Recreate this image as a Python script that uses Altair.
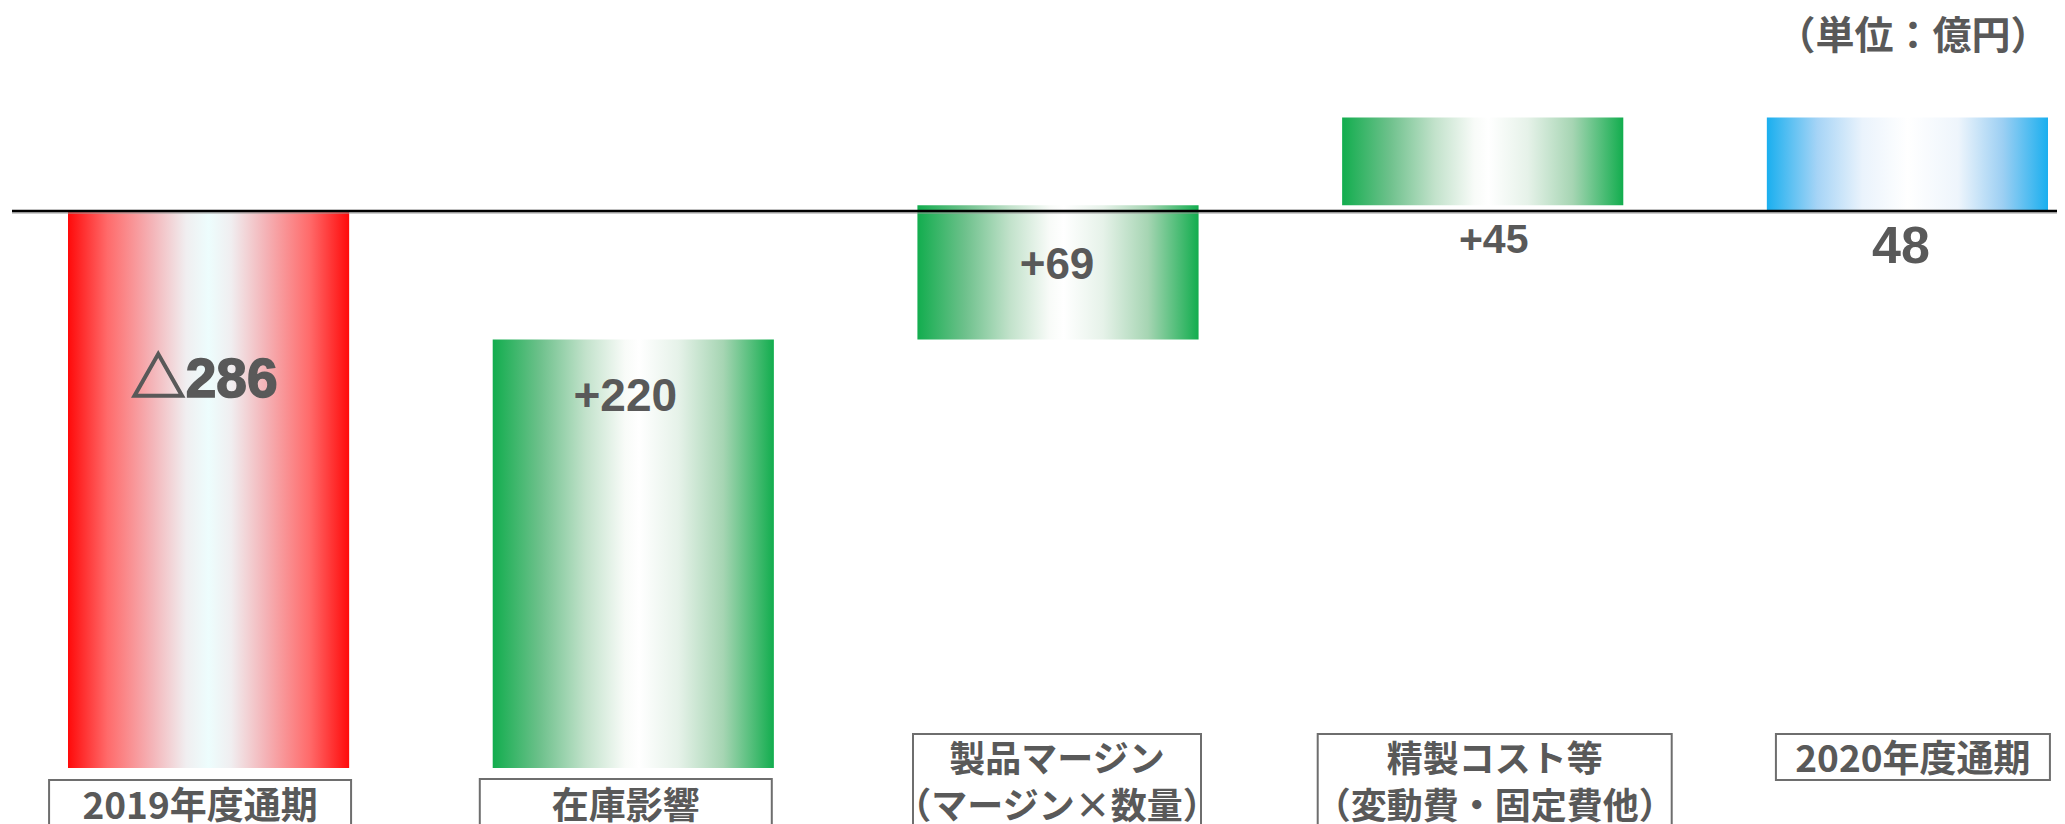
import altair as alt
import pandas as pd

# ---------------- data ----------------
categories = ["2019年度通期", "在庫影響", "製品マージン", "精製コスト等", "2020年度通期"]
sublabels = ["", "", "（マージン×数量）", "（変動費・固定費他）", ""]
values = [-286, 220, 69, 45, 48]
kinds = ["total", "delta", "delta", "delta", "total"]
value_labels = ["△286", "+220", "+69", "+45", "48"]
palette_keys = ["red", "green", "green", "green", "blue"]
unit_label = "（単位：億円）"

starts, ends = [], []
running = 0
for v, k in zip(values, kinds):
    if k == "total":
        starts.append(0)
        ends.append(v)
        running = v
    else:
        starts.append(running)
        running += v
        ends.append(running)

df = pd.DataFrame({
    "cat": categories,
    "sub": sublabels,
    "start": starts,
    "end": ends,
    "vlabel": value_labels,
    "pal": palette_keys,
})

# ---------------- styles ----------------
W, H = 2049, 816
TEXT = "#595959"
NUM_FONT = "Liberation Sans, Noto Sans CJK JP, DejaVu Sans"
JP_FONT = "Noto Sans CJK JP"


def grad(stops):
    return {"gradient": "linear", "x1": 0, "x2": 1, "y1": 0, "y2": 0,
            "stops": [{"offset": o, "color": c} for o, c in stops]}


gradients = {
    "red": grad([(0, "#FF0A0A"), (0.14, "#FF6A6A"), (0.3, "#F4B4B8"), (0.42, "#F0EEF0"),
                 (0.5, "#EDFDFD"), (0.58, "#F0EEF0"), (0.7, "#F4B4B8"), (0.86, "#FF6A6A"),
                 (1, "#FF0A0A")]),
    "green": grad([(0, "#12AD4E"), (0.17, "#6EC18C"), (0.33, "#C2E2CB"), (0.47, "#F8FBF8"),
                   (0.52, "#FFFFFF"), (0.66, "#E6F2E9"), (0.82, "#A6D5B3"), (1, "#12AD4E")]),
    "blue": grad([(0, "#1AAFEF"), (0.18, "#A6D4F6"), (0.34, "#EAF3FC"), (0.5, "#FFFFFF"),
                  (0.68, "#EEF5FC"), (0.84, "#9CCFF3"), (1, "#1AAFEF")]),
}

# per-category annotation layout (pixels)
label_style = [  # dx, baseline y, font size, outline width
    (-4.5, 389, 55, 1.6),
    (-8, 403, 46, 0),
    (-1, 271, 44, 0),
    (11, 245, 41, 0),
    (-6.5, 255, 52, 0),
]
box_style = [  # dx, width, top, bottom
    (-8.5, 302, 772, 850),
    (-7.5, 292, 771, 850),
    (-1, 288, 726, 850),
    (12, 354, 726, 850),
    (5.5, 274, 726, 772),
]
cat_line_y = [(800, None), (800, None), (753, 800), (753, 800), (753, None)]
cat_font = [37, 37, 36, 36, 37]

# y scale: zero line at 203 px, -286 at 760 px
PX_PER_UNIT = 557 / 286
y_top = 203 / PX_PER_UNIT
y_bot = -(H - 203) / PX_PER_UNIT

x_enc = alt.X("cat:N", sort=categories, axis=None,
              scale=alt.Scale(range=[60, 2040], paddingInner=0.338, paddingOuter=0))
y_scale = alt.Scale(domain=[y_bot, y_top], nice=False, zero=False)

base = alt.Chart(df)
layers = []

# bars
for key, g in gradients.items():
    layers.append(
        base.transform_filter(alt.datum.pal == key)
        .mark_bar(fill=g, strokeWidth=0)
        .encode(x=x_enc,
                y=alt.Y("start:Q", scale=y_scale, axis=None),
                y2="end:Q")
    )

# baseline
zero_df = pd.DataFrame({"y": [0]})
layers.append(
    alt.Chart(zero_df).mark_rule(color="#9A9A9A", strokeWidth=1.2, yOffset=2)
    .encode(y=alt.Y("y:Q", scale=y_scale, axis=None), x=alt.value(4), x2=alt.value(W))
)
layers.append(
    alt.Chart(zero_df).mark_rule(color="#000000", strokeWidth=2.4)
    .encode(y=alt.Y("y:Q", scale=y_scale, axis=None), x=alt.value(4), x2=alt.value(W))
)

# value labels
for i, c in enumerate(categories):
    dx, by, fs, sw = label_style[i]
    kw = dict(font=NUM_FONT, fontWeight="bold", fontSize=fs, color=TEXT,
              baseline="alphabetic", align="center", dx=dx)
    if sw > 0:
        kw.update(stroke=TEXT, strokeWidth=sw)
    layers.append(
        base.transform_filter(alt.datum.cat == c)
        .mark_text(**kw)
        .encode(x=x_enc, y=alt.value(by), text="vlabel:N")
    )

# category boxes and labels
for i, c in enumerate(categories):
    dx, bw, top, bot = box_style[i]
    sub = base.transform_filter(alt.datum.cat == c)
    layers.append(
        sub.mark_bar(width=bw, xOffset=dx, fill="#FFFFFF", fillOpacity=0,
                     stroke="#6E6E6E", strokeWidth=2)
        .encode(x=x_enc, y=alt.value(top), y2=alt.value(bot))
    )
    l1, l2 = cat_line_y[i]
    layers.append(
        sub.mark_text(font=JP_FONT, fontWeight="bold", fontSize=cat_font[i], color=TEXT,
                      baseline="middle", align="center", dx=dx)
        .encode(x=x_enc, y=alt.value(l1), text="cat:N")
    )
    if l2 is not None:
        layers.append(
            sub.mark_text(font=JP_FONT, fontWeight="bold", fontSize=cat_font[i], color=TEXT,
                          baseline="middle", align="center", dx=dx)
            .encode(x=x_enc, y=alt.value(l2), text="sub:N")
        )

# unit label
layers.append(
    alt.Chart(pd.DataFrame({"t": [unit_label]}))
    .mark_text(font=JP_FONT, fontWeight="bold", fontSize=39, color=TEXT,
               baseline="middle", align="center")
    .encode(x=alt.value(1905), y=alt.value(29), text="t:N")
)

chart = (
    alt.layer(*layers)
    .properties(width=W, height=H, padding=0,
                autosize=alt.AutoSizeParams(type="none"))
    .configure_view(stroke=None)
)

chart.save("out.html", embed_options={"renderer": "svg", "actions": False})
